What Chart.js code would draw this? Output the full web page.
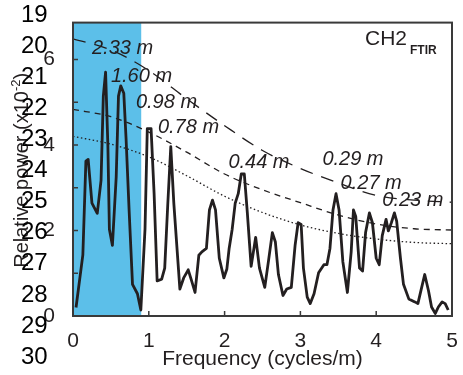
<!DOCTYPE html>
<html lang="en">

<head>
    <meta charset="UTF-8">
    <title>CH2 FTIR spectrum</title>
    <script src="https://cdn.jsdelivr.net/npm/chart.js"></script>
    <style>
        body {
            margin: 0;
            background: #fff;
        }
    </style>
</head>

<body>
    <canvas id="grafico" width="463" height="375"></canvas>
    <script>
        // spectrum (frequency in cycles/m, power x10^-2)
        const freq = [0.04, 0.13, 0.17, 0.20, 0.25, 0.32, 0.37, 0.40, 0.43, 0.46, 0.48, 0.52, 0.57, 0.60, 0.63, 0.67, 0.70, 0.74,
            0.785, 0.85, 0.895, 0.95, 0.98, 1.03, 1.07, 1.11, 1.17, 1.21, 1.25, 1.29, 1.33, 1.41, 1.46, 1.52, 1.56, 1.61, 1.66,
            1.70, 1.76, 1.80, 1.84, 1.88, 1.93, 1.99, 2.03, 2.06, 2.10, 2.14, 2.18, 2.22, 2.26, 2.30, 2.35, 2.41, 2.46, 2.53,
            2.58, 2.63, 2.67, 2.71, 2.77, 2.82, 2.88, 2.93, 2.97, 3.01, 3.04, 3.09, 3.13, 3.18, 3.24, 3.31, 3.35, 3.39, 3.43,
            3.47, 3.51, 3.56, 3.62, 3.67, 3.70, 3.73, 3.78, 3.82, 3.86, 3.91, 3.95, 4.00, 4.04, 4.08, 4.13, 4.16, 4.20, 4.24,
            4.27, 4.32, 4.36, 4.43, 4.51, 4.55, 4.60, 4.64, 4.69, 4.73, 4.78, 4.82, 4.87, 4.91, 4.95];
        const power = [0.20, 1.43, 3.62, 3.66, 2.64, 2.40, 3.17, 5.14, 5.70, 4.00, 2.03, 1.65, 3.25, 5.14, 5.38, 5.21, 4.15, 2.48,
            0.74, 0.52, 0.14, 2.03, 4.38, 4.38, 2.86, 0.82, 0.86, 1.12, 2.60, 3.96, 2.64, 0.63, 0.89, 1.08, 0.85, 0.55, 1.42,
            1.50, 1.58, 2.48, 2.71, 2.48, 1.35, 0.89, 1.10, 1.58, 2.03, 2.64, 2.86, 3.32, 3.32, 2.41, 1.16, 1.84, 1.12, 0.67,
            1.30, 1.95, 1.73, 0.97, 0.48, 0.63, 0.67, 1.65, 2.18, 2.14, 1.12, 0.44, 0.29, 0.52, 1.01, 1.20, 1.20, 1.58, 2.48,
            2.86, 2.48, 1.27, 0.55, 1.50, 2.48, 2.33, 1.12, 1.05, 1.95, 2.41, 2.18, 1.35, 1.20, 1.88, 2.26, 1.99, 2.18, 2.41,
            2.22, 1.35, 0.74, 0.40, 0.33, 0.29, 0.67, 0.97, 0.59, 0.21, 0.06, 0.21, 0.33, 0.29, 0.14];

        // red-noise confidence curves
        const refFreq = [0, 0.5, 1, 1.5, 2, 2.5, 3, 3.5, 4, 4.5, 5];
        const ref99 = [6.48, 6.22, 5.74, 5.08, 4.45, 3.87, 3.45, 3.11, 2.82, 2.71, 2.66];
        const ref95 = [4.83, 4.66, 4.30, 3.83, 3.32, 2.95, 2.65, 2.36, 2.15, 2.04, 2.01];
        const ref90 = [4.20, 4.02, 3.72, 3.28, 2.80, 2.42, 2.13, 1.93, 1.80, 1.72, 1.69];

        const xTicks = [0, 1, 2, 3, 4, 5];
        const yTicks = [0, 2, 4, 6];
        const yMinor = [1, 3, 5];
        const shadeRange = [0, 0.9];

        const periodLabels = ['2.33 m', '1.60 m', '0.98 m', '0.78 m', '0.44 m', '0.29 m', '0.27 m', '0.23 m'];
        // where each label sits (data coords, left / middle)
        const periodLabelAt = [[0.25, 6.25], [0.50, 5.61], [0.83, 5.00], [1.12, 4.41], [2.05, 3.59], [3.29, 3.66], [3.53, 3.11], [4.08, 2.70]];

        const lineNumbers = ['19', '20', '21', '22', '23', '24', '25', '26', '27', '28', '29', '30'];

        const FONT = "'Liberation Sans', Arial, sans-serif";
        const INK = '#231f20';

        const pts = (xs, ys) => xs.map((x, i) => ({ x: x, y: ys[i] }));

        const extras = {
            id: 'extras',
            beforeDatasetsDraw(chart) {
                const { ctx, chartArea: a, scales: { x } } = chart;
                ctx.save();
                ctx.fillStyle = '#5cbfe9';
                const x0 = x.getPixelForValue(shadeRange[0]);
                const x1 = x.getPixelForValue(shadeRange[1]);
                ctx.fillRect(x0, a.top, x1 - x0, a.bottom - a.top);
                ctx.restore();
            },
            afterDatasetsDraw(chart) {
                const { ctx, chartArea: a, scales: { x, y } } = chart;
                ctx.save();

                // frame + inward ticks
                ctx.strokeStyle = '#3a3a3a';
                ctx.lineWidth = 2;
                ctx.strokeRect(a.left, a.top, a.right - a.left, a.bottom - a.top);
                ctx.lineWidth = 1.5;
                ctx.beginPath();
                xTicks.forEach(v => {
                    const px = x.getPixelForValue(v);
                    ctx.moveTo(px, a.bottom);
                    ctx.lineTo(px, a.bottom - 5);
                });
                yTicks.concat(yMinor).forEach(v => {
                    const py = y.getPixelForValue(v);
                    ctx.moveTo(a.left, py);
                    ctx.lineTo(a.left + 5, py);
                });
                ctx.stroke();

                // period labels
                ctx.fillStyle = INK;
                ctx.font = 'italic 20px ' + FONT;
                ctx.textAlign = 'left';
                ctx.textBaseline = 'middle';
                periodLabels.forEach((t, i) => {
                    const [lx, ly] = periodLabelAt[i];
                    ctx.fillText(t, x.getPixelForValue(lx), y.getPixelForValue(ly));
                });

                // panel name
                ctx.textBaseline = 'alphabetic';
                ctx.font = '21px ' + FONT;
                ctx.fillText('CH2', 365, 45);
                const w = ctx.measureText('CH2').width;
                ctx.font = 'bold 12px ' + FONT;
                ctx.fillText('FTIR', 365 + w + 3, 54);

                // axis titles
                ctx.font = '21px ' + FONT;
                ctx.textAlign = 'center';
                ctx.fillText('Frequency (cycles/m)', (a.left + a.right) / 2, 365);

                ctx.translate(27.5, (a.top + a.bottom) / 2 + 1);
                ctx.rotate(-Math.PI / 2);
                ctx.textAlign = 'left';
                const p1 = 'Relative power (x10', sup = '-2', p2 = ')';
                ctx.font = '20px ' + FONT;
                const w1 = ctx.measureText(p1).width, w3 = ctx.measureText(p2).width;
                ctx.font = '13px ' + FONT;
                const w2 = ctx.measureText(sup).width;
                let cx = -(w1 + w2 + w3) / 2;
                ctx.font = '20px ' + FONT;
                ctx.fillText(p1, cx, 0);
                cx += w1;
                ctx.font = '13px ' + FONT;
                ctx.fillText(sup, cx, -8);
                cx += w2;
                ctx.font = '20px ' + FONT;
                ctx.fillText(p2, cx, 0);
                ctx.restore();

                // stray line numbers along the left edge
                ctx.save();
                ctx.fillStyle = '#000';
                ctx.font = '24px ' + FONT;
                ctx.textAlign = 'left';
                ctx.textBaseline = 'middle';
                lineNumbers.forEach((t, i) => ctx.fillText(t, 21, 15 + 31.1 * i));
                ctx.restore();
            }
        };

        const ctx = document.getElementById('grafico').getContext('2d');
        new Chart(ctx, {
            type: 'line',
            data: {
                datasets: [
                    { data: pts(refFreq, ref99), borderColor: INK, borderWidth: 1.3, borderDash: [13, 9], pointRadius: 0, cubicInterpolationMode: 'monotone' },
                    { data: pts(refFreq, ref95), borderColor: INK, borderWidth: 1.3, borderDash: [6, 5], pointRadius: 0, cubicInterpolationMode: 'monotone' },
                    { data: pts(refFreq, ref90), borderColor: INK, borderWidth: 1.3, borderDash: [1.5, 2.5], pointRadius: 0, cubicInterpolationMode: 'monotone' },
                    { data: pts(freq, power), borderColor: INK, borderWidth: 2.8, pointRadius: 0, tension: 0, borderJoinStyle: 'round' }
                ]
            },
            options: {
                responsive: false,
                devicePixelRatio: 1,
                animation: false,
                layout: { padding: { top: 14, right: 11, left: 0, bottom: 0 } },
                plugins: { legend: { display: false }, tooltip: { enabled: false } },
                scales: {
                    x: {
                        type: 'linear',
                        min: 0,
                        max: 5,
                        afterFit: s => { s.height = 59; },
                        afterBuildTicks: s => { s.ticks = xTicks.map(v => ({ value: v })); },
                        grid: { display: false },
                        border: { display: false },
                        ticks: { font: { family: FONT, size: 21 }, color: INK, padding: 5, maxRotation: 0 }
                    },
                    y: {
                        min: 0,
                        max: 6.86,
                        afterFit: s => { s.width = 73; },
                        afterBuildTicks: s => { s.ticks = yTicks.map(v => ({ value: v })); },
                        grid: { display: false },
                        border: { display: false },
                        ticks: { font: { family: FONT, size: 21 }, color: INK, padding: 10 }
                    }
                }
            },
            plugins: [extras]
        });
    </script>
</body>

</html>
